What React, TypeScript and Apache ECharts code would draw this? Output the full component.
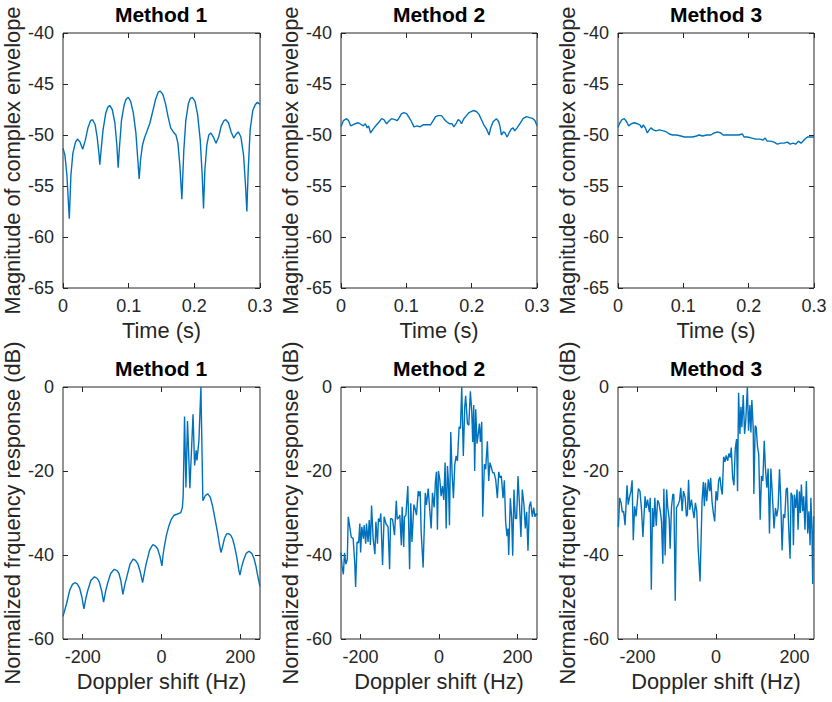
import React, { useEffect, useRef } from "react";
import * as echarts from "echarts";

// ---------- Top row: magnitude of complex envelope vs time ----------
const timeM1 = [0.000, 0.003, 0.006, 0.0096, 0.012, 0.015, 0.019, 0.022, 0.026, 0.030, 0.034, 0.038, 0.042, 0.045, 0.049, 0.052, 0.055, 0.056, 0.058, 0.061, 0.065, 0.068, 0.071, 0.075, 0.079, 0.082, 0.084, 0.086, 0.089, 0.093, 0.096, 0.0995, 0.103, 0.107, 0.111, 0.114, 0.116, 0.118, 0.121, 0.124, 0.128, 0.132, 0.137, 0.141, 0.145, 0.148, 0.152, 0.156, 0.160, 0.164, 0.168, 0.172, 0.175, 0.178, 0.181, 0.184, 0.187, 0.191, 0.194, 0.197, 0.201, 0.205, 0.209, 0.212, 0.214, 0.216, 0.219, 0.222, 0.225, 0.229, 0.233, 0.237, 0.241, 0.245, 0.248, 0.252, 0.256, 0.260, 0.264, 0.267, 0.271, 0.275, 0.278, 0.280, 0.282, 0.285, 0.289, 0.293, 0.296, 0.300];
const envM1 = [-51.3, -52.0, -54.0, -58.2, -54.0, -51.8, -50.7, -50.4, -50.7, -51.4, -50.5, -49.3, -48.6, -48.5, -49.0, -50.2, -52.0, -52.9, -51.5, -49.5, -47.9, -47.3, -47.1, -47.5, -48.8, -51.0, -53.2, -51.2, -48.6, -47.1, -46.5, -46.3, -46.7, -47.8, -49.8, -52.5, -54.3, -52.5, -51.0, -50.3, -49.6, -48.9, -47.6, -46.5, -45.8, -45.7, -46.0, -46.9, -48.2, -49.3, -49.7, -50.0, -50.8, -53.0, -56.3, -51.5, -48.6, -46.9, -46.4, -46.3, -46.7, -48.0, -50.5, -54.0, -57.2, -53.5, -51.0, -50.0, -49.8, -50.2, -50.8, -50.2, -49.1, -48.6, -48.5, -48.8, -49.7, -50.3, -49.9, -49.7, -50.2, -52.0, -55.0, -57.5, -53.5, -49.5, -47.6, -47.0, -46.8, -47.0];

const timeM2 = [0, 0.0036, 0.0087, 0.0117, 0.0148, 0.0214, 0.0265, 0.0341, 0.0372, 0.0402, 0.0423, 0.0453, 0.0494, 0.0545, 0.0586, 0.0622, 0.0657, 0.0698, 0.0739, 0.0774, 0.0825, 0.0861, 0.0891, 0.0927, 0.0963, 0.1004, 0.1044, 0.108, 0.1116, 0.1167, 0.1207, 0.1258, 0.1309, 0.137, 0.1411, 0.1447, 0.1488, 0.1538, 0.1574, 0.1615, 0.1666, 0.1701, 0.1727, 0.1768, 0.1793, 0.1819, 0.1844, 0.188, 0.192, 0.1961, 0.2022, 0.2073, 0.2114, 0.215, 0.2185, 0.2226, 0.2267, 0.2292, 0.2328, 0.2379, 0.2414, 0.2435, 0.2455, 0.2486, 0.2511, 0.2542, 0.2572, 0.2608, 0.2634, 0.2659, 0.2695, 0.2736, 0.2787, 0.2838, 0.2888, 0.2939, 0.297, 0.3];
const envM2 = [-49.2, -48.6, -48.4, -48.6, -49.1, -48.9, -48.8, -49.1, -48.9, -49.3, -49.1, -49.8, -49.4, -49.0, -48.7, -48.4, -48.5, -48.9, -48.6, -48.4, -48.5, -48.6, -48.3, -47.9, -47.8, -47.9, -48.3, -48.7, -49.2, -49.1, -49.2, -49.0, -49.0, -49.0, -48.6, -48.2, -48.1, -48.1, -48.4, -48.7, -48.9, -48.9, -49.2, -48.8, -48.5, -48.6, -48.9, -48.4, -48.1, -47.8, -47.6, -47.7, -48.0, -48.5, -49.0, -49.4, -50.0, -49.3, -48.7, -48.4, -48.7, -49.2, -50.0, -49.7, -49.8, -50.2, -49.8, -49.4, -49.3, -49.6, -49.3, -48.9, -48.4, -48.2, -48.3, -48.4, -48.6, -49.1];

const timeM3 = [0, 0.003, 0.0061, 0.0097, 0.0132, 0.0163, 0.0204, 0.025, 0.03, 0.0336, 0.0362, 0.0387, 0.0418, 0.0448, 0.0479, 0.0504, 0.054, 0.0581, 0.0632, 0.0693, 0.0744, 0.0785, 0.0835, 0.0897, 0.0963, 0.1014, 0.108, 0.1141, 0.1202, 0.1243, 0.1294, 0.1355, 0.1421, 0.1472, 0.1523, 0.1574, 0.161, 0.165, 0.1712, 0.1778, 0.1844, 0.1905, 0.1931, 0.1982, 0.2048, 0.2109, 0.217, 0.2221, 0.2252, 0.2282, 0.2338, 0.2389, 0.244, 0.2491, 0.2542, 0.2593, 0.2634, 0.268, 0.272, 0.2761, 0.2802, 0.2848, 0.2899, 0.295, 0.3];
const envM3 = [-49.25, -48.8, -48.5, -48.4, -48.7, -49.1, -48.9, -48.8, -48.9, -49.0, -49.3, -49.0, -49.3, -49.8, -49.5, -49.3, -49.5, -49.6, -49.5, -49.6, -49.7, -49.9, -50.0, -50.0, -50.1, -50.2, -50.2, -50.2, -50.1, -50.0, -50.1, -50.0, -50.0, -49.8, -49.7, -49.8, -50.0, -50.0, -50.0, -50.0, -50.0, -49.9, -50.2, -50.2, -50.3, -50.4, -50.4, -50.5, -50.3, -50.6, -50.6, -50.7, -50.9, -50.8, -50.8, -50.7, -50.9, -50.8, -50.9, -50.6, -50.8, -50.5, -50.2, -50.2, -50.2];

// ---------- Bottom row: normalized frequency response vs Doppler shift ----------
const freqM1 = [-250, -241, -233, -226, -220, -214, -208, -202, -197, -192, -187, -179, -170, -163, -158, -152, -147, -142, -137, -129, -120, -113, -108, -103, -98, -93, -88, -80, -72, -66, -60, -54, -48, -43, -39, -30, -22, -16, -10, -4, 1, 4, 7, 12, 18, 25, 31, 39, 49, 53, 55, 58.5, 62, 66, 72, 80, 84, 88, 90, 95, 100, 105, 111, 117, 124, 130, 136, 142, 147, 151, 155, 160, 165, 170, 176, 181, 186, 191, 196, 199, 203, 208, 215, 222, 229, 235, 240, 243, 247, 250];
const respM1 = [-54.6, -51.6, -48.4, -47.0, -46.6, -46.9, -47.8, -50.0, -52.8, -50.3, -48.4, -46.0, -45.2, -45.6, -46.4, -48.5, -51.2, -48.7, -46.8, -44.4, -43.4, -43.7, -44.4, -46.2, -49.4, -47.0, -45.2, -42.2, -41.0, -41.3, -42.1, -44.0, -46.6, -44.0, -42.1, -38.8, -37.5, -37.8, -38.5, -40.3, -42.6, -40.0, -38.1, -35.5, -33.3, -31.5, -30.6, -30.3, -29.9, -28.7, -26.0, -7.0, -23.9, -8.1, -24.1, -6.5, -18.7, -15.1, -17.5, -12.7, 0, -27.1, -25.9, -25.4, -26.3, -28.5, -31.5, -34.5, -37.5, -39.4, -38.0, -36.0, -35.0, -34.9, -35.3, -36.3, -38.2, -40.5, -43.5, -44.8, -43.0, -41.3, -39.6, -39.1, -39.6, -40.9, -42.8, -44.4, -46.2, -47.5];

const freqM2 = [-250, -247.5, -244, -241, -237.6, -234, -231.5, -227, -224, -219, -215, -212.7, -209, -205, -202, -200, -196.9, -193, -191, -187, -185, -181, -178, -175, -172, -168, -163.5, -161, -157, -154.5, -151, -148.5, -144, -140, -135.5, -130, -126, -123.5, -118.5, -113.5, -109, -106.5, -102, -100, -96, -94, -90, -88, -84.5, -79.5, -75, -72, -69, -64, -61, -57.5, -53, -51, -48, -45.5, -40.5, -35, -32, -27.6, -24, -20, -16.6, -12.4, -9, -6.5, -4, -1.4, 2, 5.4, 8.8, 12.2, 15.6, 18.2, 21.6, 24, 26.7, 30, 33.5, 36.8, 40.3, 43.7, 47, 51.3, 54.7, 58, 62, 65.7, 68, 72.5, 76, 80, 83.6, 86, 88.6, 91, 93.7, 97, 99.7, 103, 105.6, 109, 111.5, 115.8, 119, 123.4, 126.8, 130, 133.6, 137, 140.4, 144.6, 148.9, 152.4, 155.7, 159, 163.4, 166.7, 170, 173.5, 176, 177.8, 182, 185.4, 188, 191.3, 194.7, 198, 201.5, 205.8, 209, 212.5, 216.8, 220.2, 223.6, 227, 230.4, 233.8, 238, 241.5, 244.8, 248, 250];
const respM2 = [-39.4, -42.6, -44.6, -39.5, -42.2, -41, -30.9, -33.7, -35.7, -36.1, -41.8, -47.6, -36.9, -37.1, -32.5, -39.4, -33.3, -36.1, -32.9, -37.3, -32.5, -36.9, -31.7, -37.6, -28.2, -36.1, -39.8, -32.1, -37.3, -31.3, -32.1, -30.1, -42.4, -30.9, -32.5, -33.3, -43.4, -31.3, -31.5, -35.3, -27.1, -31.5, -30.9, -30.5, -37.7, -28.5, -38.1, -30.9, -30.5, -23.6, -43.4, -27.7, -36.9, -28, -28.9, -30.5, -24.8, -26, -24.8, -34.5, -43, -25.2, -28.1, -24.2, -28.7, -33.7, -25.2, -28.7, -22.4, -20.2, -34, -20, -22, -26, -23.6, -26.9, -18, -33.7, -18.8, -22.4, -32.9, -10.7, -20.8, -26.5, -18.4, -16.4, -17.6, -9.5, -9.9, 0, -16.4, -4.7, -2.1, -8.7, -9.1, -1, -5.9, -13.1, -4.3, -20, -5.3, -13.5, -11.5, -8.7, -13.1, -8.3, -30.9, -18.4, -19.6, -12.9, -22.4, -18, -19.2, -20.4, -20.4, -22, -26.5, -20.2, -21.6, -21.2, -26.5, -22.2, -32.1, -35.5, -33.7, -40, -26.5, -31.3, -40.2, -24.4, -31.3, -31.3, -21.2, -28.9, -35.7, -24.4, -28.1, -33.7, -29.7, -39, -28.5, -27.3, -30.9, -28.7, -30.9, -30.1, -30.5];

const freqM3 = [-249, -245.8, -242, -239, -235.6, -232, -227, -224, -220, -217, -214, -211, -207.6, -204, -201.7, -198, -194, -190, -186.4, -181, -178, -174.6, -170, -167.8, -165, -162, -159, -156, -152.5, -149, -145.8, -142, -139, -135.6, -133, -129.7, -126, -123, -119.5, -117, -113.6, -110, -107.6, -104, -100.8, -96.6, -93, -89.8, -86.4, -83, -78.8, -75.4, -73, -70, -67, -62.7, -59.3, -56, -52.5, -49, -45.8, -40.7, -35.6, -32.2, -29.7, -27, -23.7, -19.5, -16, -13.6, -10, -6.8, -3.4, 0, 3.4, 6.8, 10, 13.5, 16, 19.5, 23, 26, 29.7, 33, 36.4, 39, 42.4, 45.8, 49, 52.5, 55, 57.6, 61, 63.6, 66, 69.5, 72.9, 76, 80, 83, 86.4, 89, 91.5, 95, 96.6, 100, 102.5, 106, 109, 112.7, 116, 119.5, 123, 126, 129.7, 133, 136.4, 140, 144, 148, 151.7, 155, 158.5, 162, 165, 168.6, 172, 175.4, 179, 182, 185.6, 189, 191.5, 195, 197.5, 200, 203.4, 206.8, 209.3, 212.7, 215, 217.8, 221, 223.7, 227, 230.5, 234, 237, 240, 242, 245, 246.6, 249];
const respM3 = [-33.3, -26.4, -27.6, -29.8, -29.6, -32.9, -23.4, -28, -26, -24.8, -22.2, -36.5, -28.4, -30.8, -28.4, -24.2, -24.8, -29.2, -35.7, -26, -28.8, -26.8, -29.8, -26.4, -48.3, -28.8, -33.3, -26.4, -33, -27, -27.6, -29.6, -32, -42.1, -24.2, -40.1, -24.4, -28.8, -31.2, -38.5, -28.7, -25.5, -25.6, -50.9, -28.7, -28, -27, -24, -29.6, -24.8, -26.3, -30.8, -30.4, -22.1, -29.2, -26.8, -29.2, -31.2, -27.6, -29.6, -37.7, -46.3, -27.2, -22.6, -28.4, -22.8, -27.2, -22, -24.8, -21.6, -27.4, -30, -32, -24.8, -27, -22.2, -21.4, -24.4, -25.6, -16.6, -17.8, -16.3, -17.6, -15.8, -16.8, -14.4, -21.6, -23.4, -14.8, -12.4, -24.8, -1.4, -11.2, -4.7, -9.6, -1.9, -11.2, -7.9, 0, -10.4, -4.3, -10.8, -3.1, -10, -25.5, -9.2, -9.6, -14.4, -16, -31.6, -21.2, -22.4, -12.8, -19.2, -24, -19.4, -34.9, -19.4, -26, -33.7, -28.8, -30.8, -28.7, -19.6, -26.4, -38.9, -30.3, -31.2, -24.4, -24, -34, -40.9, -25.2, -26, -37.7, -25.6, -28.8, -24.4, -34, -24.8, -30, -23.2, -29.6, -26, -34, -22.4, -34.9, -29.6, -37.7, -26.4, -34.9, -46.9, -30.8];

// ---------- Axis settings ----------
const panelTitles = ["Method 1", "Method 2", "Method 3"];
const timeTicks = [0, 0.1, 0.2, 0.3];
const envTicks = [-65, -60, -55, -50, -45, -40];
const freqTicks = [-200, 0, 200];
const respTicks = [-60, -40, -20, 0];
const topXLabel = "Time (s)";
const topYLabel = "Magnitude of complex envelope";
const botXLabel = "Doppler shift (Hz)";
const botYLabel = "Normalized frquency response (dB)";

const FONT = "'Liberation Sans', Arial, Helvetica, sans-serif";
const AXIS_COLOR = "#262626";
const LINE_COLOR = "#0072BD";

const zip = (xs: number[], ys: number[]) => xs.map((x, i) => [x, ys[i]]);

export default function App() {
  const ref = useRef<HTMLDivElement>(null);

  useEffect(() => {
    document.body.style.margin = "0";
    if (!ref.current) return;
    const chart = echarts.init(ref.current, undefined, { renderer: "svg" });

    const colLeft = [62, 341, 618];
    const colWidth = [198, 196, 196];
    const rowTop = [33, 387];
    const rowHeight = [255, 252];

    const panels = [
      { row: 0, col: 0, x: timeM1, y: envM1 },
      { row: 0, col: 1, x: timeM2, y: envM2 },
      { row: 0, col: 2, x: timeM3, y: envM3 },
      { row: 1, col: 0, x: freqM1, y: respM1 },
      { row: 1, col: 1, x: freqM2, y: respM2 },
      { row: 1, col: 2, x: freqM3, y: respM3 },
    ];

    const grids: any[] = [];
    const xAxes: any[] = [];
    const yAxes: any[] = [];
    const series: any[] = [];
    const titles: any[] = [];
    const secX: any[] = [];
    const secY: any[] = [];

    const tickStyle = { show: true, inside: true, length: 5, lineStyle: { color: AXIS_COLOR, width: 1 } };
    const labelStyle = { color: AXIS_COLOR, fontSize: 18, fontFamily: FONT };
    const nameStyle = { color: AXIS_COLOR, fontSize: 21.8, fontFamily: FONT };

    panels.forEach((p, i) => {
      const top = p.row === 0;
      const xTicks = top ? timeTicks : freqTicks;
      const yTicks = top ? envTicks : respTicks;
      const xMin = top ? 0 : -250;
      const xMax = top ? 0.3 : 250;
      const yMin = yTicks[0];
      const yMax = yTicks[yTicks.length - 1];

      grids.push({
        left: colLeft[p.col],
        top: rowTop[p.row],
        width: colWidth[p.col],
        height: rowHeight[p.row],
        show: true,
        borderColor: AXIS_COLOR,
        borderWidth: 1,
        backgroundColor: "#fff",
      });

      titles.push({
        text: panelTitles[p.col],
        left: colLeft[p.col] + colWidth[p.col] / 2,
        top: rowTop[p.row] - 29,
        textAlign: "center",
        padding: 0,
        textStyle: { fontFamily: FONT, fontSize: 21, fontWeight: "bold", color: "#000" },
      });

      xAxes.push({
        type: "value",
        gridIndex: i,
        position: "bottom",
        min: xMin,
        max: xMax,
        axisLine: { show: false, onZero: false },
        axisTick: { ...tickStyle, customValues: xTicks },
        axisLabel: { ...labelStyle, margin: 9, customValues: xTicks, formatter: (v: number) => String(Math.round(v * 100) / 100) },
        splitLine: { show: false },
        name: top ? topXLabel : botXLabel,
        nameLocation: "middle",
        nameGap: 31,
        nameTextStyle: nameStyle,
      });
      secX.push({
        type: "value",
        gridIndex: i,
        position: "top",
        min: xMin,
        max: xMax,
        axisLine: { show: false, onZero: false },
        axisTick: { ...tickStyle, customValues: xTicks },
        axisLabel: { show: false },
        splitLine: { show: false },
      });

      yAxes.push({
        type: "value",
        gridIndex: i,
        position: "left",
        min: yMin,
        max: yMax,
        axisLine: { show: false, onZero: false },
        axisTick: { ...tickStyle, customValues: yTicks },
        axisLabel: { ...labelStyle, margin: 9, customValues: yTicks },
        splitLine: { show: false },
        name: top ? topYLabel : botYLabel,
        nameLocation: "middle",
        nameGap: 40,
        nameTextStyle: nameStyle,
      });
      secY.push({
        type: "value",
        gridIndex: i,
        position: "right",
        min: yMin,
        max: yMax,
        axisLine: { show: false, onZero: false },
        axisTick: { ...tickStyle, customValues: yTicks },
        axisLabel: { show: false },
        splitLine: { show: false },
      });

      series.push({
        type: "line",
        xAxisIndex: i,
        yAxisIndex: i,
        data: zip(p.x, p.y),
        showSymbol: false,
        symbol: "none",
        lineStyle: { color: LINE_COLOR, width: 1.4 },
        clip: true,
      });
    });

    chart.setOption({
      animation: false,
      backgroundColor: "#fff",
      title: titles,
      grid: grids,
      xAxis: [...xAxes, ...secX],
      yAxis: [...yAxes, ...secY],
      series,
    });

    return () => chart.dispose();
  }, []);

  return <div ref={ref} style={{ width: 832, height: 702 }} />;
}
